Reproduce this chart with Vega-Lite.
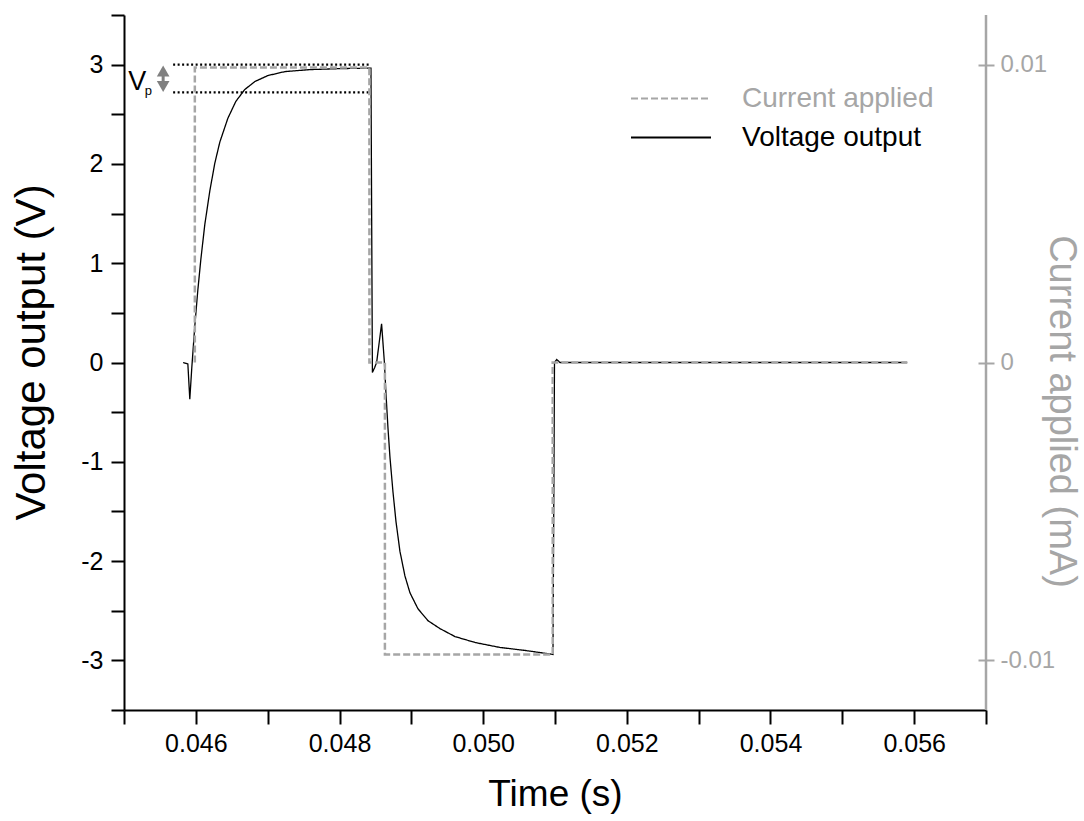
{
  "$schema": "https://vega.github.io/schema/vega-lite/v6.json",
  "width": 862,
  "height": 695,
  "autosize": {"type": "none"},
  "padding": {"left": 124, "top": 15, "right": 98, "bottom": 111},
  "background": "white",
  "config": {
    "font": "Liberation Sans",
    "view": {"stroke": null},
    "axis": {"grid": false, "labelFont": "Liberation Sans", "titleFont": "Liberation Sans", "titleFontWeight": "normal", "labelOverlap": false, "labelFlush": false, "labelBound": false}
  },
  "datasets": {
    "voltage": [
      {"t": 0.045823, "v": 0},
      {"t": 0.045889, "v": -0.015},
      {"t": 0.045916, "v": -0.37},
      {"t": 0.045944, "v": -0.05},
      {"t": 0.045986, "v": 0.37},
      {"t": 0.046028, "v": 0.73},
      {"t": 0.046070, "v": 1.04},
      {"t": 0.046125, "v": 1.39},
      {"t": 0.046195, "v": 1.73},
      {"t": 0.046265, "v": 2.01},
      {"t": 0.046334, "v": 2.22},
      {"t": 0.046446, "v": 2.46},
      {"t": 0.046557, "v": 2.63},
      {"t": 0.046682, "v": 2.75},
      {"t": 0.046822, "v": 2.83},
      {"t": 0.047003, "v": 2.89},
      {"t": 0.047240, "v": 2.93},
      {"t": 0.047588, "v": 2.95},
      {"t": 0.048006, "v": 2.96},
      {"t": 0.048438, "v": 2.965},
      {"t": 0.048458, "v": -0.1},
      {"t": 0.048490, "v": -0.05},
      {"t": 0.048517, "v": 0.0},
      {"t": 0.048586, "v": 0.39},
      {"t": 0.048625, "v": 0.0},
      {"t": 0.048646, "v": -0.3},
      {"t": 0.048674, "v": -0.65},
      {"t": 0.048702, "v": -0.95},
      {"t": 0.048744, "v": -1.3},
      {"t": 0.048786, "v": -1.6},
      {"t": 0.048841, "v": -1.9},
      {"t": 0.048911, "v": -2.15},
      {"t": 0.048981, "v": -2.32},
      {"t": 0.049092, "v": -2.48},
      {"t": 0.049231, "v": -2.6},
      {"t": 0.049398, "v": -2.68},
      {"t": 0.049607, "v": -2.76},
      {"t": 0.049886, "v": -2.82},
      {"t": 0.050234, "v": -2.87},
      {"t": 0.050582, "v": -2.9},
      {"t": 0.050972, "v": -2.94},
      {"t": 0.050993, "v": 0.0},
      {"t": 0.051024, "v": 0.03},
      {"t": 0.051070, "v": 0.0},
      {"t": 0.055903, "v": 0.0}
    ],
    "current": [
      {"t": 0.045986, "i": 0},
      {"t": 0.045986, "i": 0.0099},
      {"t": 0.048416, "i": 0.0099},
      {"t": 0.048416, "i": 0},
      {"t": 0.048632, "i": 0},
      {"t": 0.048632, "i": -0.0098},
      {"t": 0.050968, "i": -0.0098},
      {"t": 0.050968, "i": 0},
      {"t": 0.055903, "i": 0}
    ],
    "vp_lines": [
      {"t1": 0.045684, "t2": 0.048424, "v": 3.0},
      {"t1": 0.045684, "t2": 0.048424, "v": 2.72}
    ],
    "vp_shaft": [{"t": 0.045545, "v1": 2.8, "v2": 2.92}],
    "vp_up": [{"t": 0.045545, "v": 2.935}],
    "vp_down": [{"t": 0.045545, "v": 2.78}],
    "vp_V": [{"t": 0.045185, "v": 2.83, "label": "V"}],
    "vp_p": [{"t": 0.045340, "v": 2.73, "label": "p"}],
    "edge": [{"t": 0.057}]
  },
  "layer": [
    {
      "layer": [
        {
          "data": {"name": "voltage"},
          "mark": {"type": "line", "strokeWidth": 1.3, "interpolate": "linear"},
          "encoding": {
            "x": {
              "field": "t", "type": "quantitative",
              "scale": {"domain": [0.045, 0.057], "nice": false, "zero": false},
              "axis": {
                "values": [0.045, 0.046, 0.047, 0.048, 0.049, 0.05, 0.051, 0.052, 0.053, 0.054, 0.055, 0.056, 0.057],
                "labelExpr": "round(datum.value*1000) % 2 === 0 ? format(datum.value, '.3f') : ''",
                "tickSize": 14,
                "tickWidth": 2, "tickColor": "#000", "domainColor": "#000", "domainWidth": 2,
                "labelFontSize": 25, "labelColor": "#000", "labelPadding": 7,
                "title": "Time (s)", "titleFontSize": 37, "titleColor": "#000", "titlePadding": 20,
                "encode": {"ticks": {"update": {"y2": {"signal": "round(datum.value*1000) % 2 === 0 ? 14 : 7"}}}}
              }
            },
            "y": {
              "field": "v", "type": "quantitative",
              "scale": {"domain": [-3.5, 3.5], "nice": false, "zero": false},
              "axis": {
                "values": [-3.5, -3, -2.5, -2, -1.5, -1, -0.5, 0, 0.5, 1, 1.5, 2, 2.5, 3, 3.5],
                "labelExpr": "datum.value % 1 === 0 ? '' + datum.value : ''",
                "tickSize": 13,
                "tickWidth": 2, "tickColor": "#000", "domainColor": "#000", "domainWidth": 2,
                "labelFontSize": 25, "labelColor": "#000", "labelPadding": 8,
                "title": "Voltage output (V)", "titleFontSize": 42, "titleColor": "#000", "titlePadding": 27,
                "titleY": 337,
                "encode": {"ticks": {"update": {"x2": {"signal": "datum.value % 1 === 0 ? -13 : -7"}}}}
              }
            },
            "color": {"datum": "Voltage output"},
            "strokeDash": {"datum": "Voltage output"}
          }
        },
        {
          "data": {"name": "edge"},
          "mark": {"type": "rule", "color": "#a6a6a6", "strokeWidth": 2.5},
          "encoding": {"x": {"field": "t", "type": "quantitative"}}
        },
        {
          "data": {"name": "vp_lines"},
          "mark": {"type": "rule", "color": "#000", "strokeWidth": 2.2, "strokeDash": [2, 2.5]},
          "encoding": {
            "x": {"field": "t1", "type": "quantitative"},
            "x2": {"field": "t2"},
            "y": {"field": "v", "type": "quantitative"}
          }
        },
        {
          "data": {"name": "vp_shaft"},
          "mark": {"type": "rule", "color": "#808080", "strokeWidth": 3},
          "encoding": {
            "x": {"field": "t", "type": "quantitative"},
            "y": {"field": "v1", "type": "quantitative"},
            "y2": {"field": "v2"}
          }
        },
        {
          "data": {"name": "vp_up"},
          "mark": {"type": "point", "shape": "triangle-up", "filled": true, "color": "#808080", "size": 160, "opacity": 1},
          "encoding": {
            "x": {"field": "t", "type": "quantitative"},
            "y": {"field": "v", "type": "quantitative"}
          }
        },
        {
          "data": {"name": "vp_down"},
          "mark": {"type": "point", "shape": "triangle-down", "filled": true, "color": "#808080", "size": 160, "opacity": 1},
          "encoding": {
            "x": {"field": "t", "type": "quantitative"},
            "y": {"field": "v", "type": "quantitative"}
          }
        },
        {
          "data": {"name": "vp_V"},
          "mark": {"type": "text", "fontSize": 27, "color": "#000", "align": "center", "baseline": "middle"},
          "encoding": {
            "x": {"field": "t", "type": "quantitative"},
            "y": {"field": "v", "type": "quantitative"},
            "text": {"field": "label"}
          }
        },
        {
          "data": {"name": "vp_p"},
          "mark": {"type": "text", "fontSize": 13, "color": "#000", "align": "center", "baseline": "middle"},
          "encoding": {
            "x": {"field": "t", "type": "quantitative"},
            "y": {"field": "v", "type": "quantitative"},
            "text": {"field": "label"}
          }
        }
      ]
    },
    {
      "layer": [
        {
          "data": {"name": "current"},
          "mark": {"type": "line", "strokeWidth": 2.5},
          "encoding": {
            "x": {"field": "t", "type": "quantitative"},
            "y": {
              "field": "i", "type": "quantitative",
              "scale": {"domain": [-0.0116667, 0.0116667], "nice": false, "zero": false},
              "axis": {
                "orient": "right",
                "values": [-0.01, 0, 0.01],
                "labelExpr": "'' + datum.value",
                "domain": false,
                "offset": -8,
                "tickSize": 16, "tickWidth": 2, "tickColor": "#a6a6a6",
                "labelFontSize": 24, "labelColor": "#a6a6a6", "labelPadding": 6,
                "title": "Current applied (mA)", "titleFontSize": 38, "titleColor": "#a6a6a6", "titlePadding": -13,
                "titleY": 396
              }
            },
            "color": {
              "datum": "Current applied",
              "scale": {"domain": ["Current applied", "Voltage output"], "range": ["#a6a6a6", "#000000"]},
              "legend": {
                "title": null,
                "orient": "none",
                "legendX": 506,
                "legendY": 64,
                "symbolType": "stroke",
                "symbolSize": 6400,
                "symbolStrokeWidth": 2,
                "labelFontSize": 28,
                "labelFont": "Liberation Sans",
                "labelLimit": 500,
                "labelOffset": 30,
                "clipHeight": 39,
                "rowPadding": 0,
                "encode": {"labels": {"update": {"fill": {"signal": "datum.label === 'Current applied' ? '#a6a6a6' : '#000000'"}}}}
              }
            },
            "strokeDash": {
              "datum": "Current applied",
              "scale": {"domain": ["Current applied", "Voltage output"], "range": [[7, 3], [1, 0]]},
              "legend": {"title": null}
            }
          }
        }
      ]
    }
  ],
  "resolve": {"scale": {"y": "independent"}}
}
